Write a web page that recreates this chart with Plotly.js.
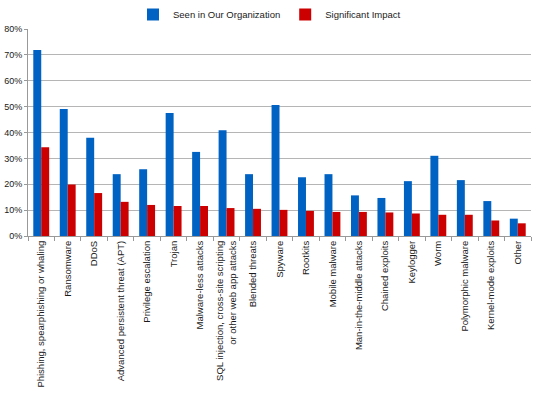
<!DOCTYPE html>
<html><head><meta charset="utf-8">
<script src="https://cdn.plot.ly/plotly-3.0.1.min.js"></script>
<style>body{margin:0;background:#fff}#c{width:539px;height:399px}</style>
</head><body><div id="c"></div>
<script>
const categories = [
  "Phishing, spearphishing or whaling","Ransomware","DDoS","Advanced persistent threat (APT)",
  "Privilege escalation","Trojan","Malware-less attacks",
  "SQL injection, cross-site scripting<br>or other web app attacks","Blended threats","Spyware",
  "Rootkits","Mobile malware","Man-in-the-middle attacks","Chained exploits","Keylogger","Worm",
  "Polymorphic malware","Kernel-mode exploits","Other"];
const seen = [71.9,49.1,38.0,23.9,25.8,47.5,32.5,40.9,23.9,50.6,22.7,23.9,15.7,14.7,21.2,31.0,21.6,13.5,6.7];
const impact = [34.3,19.9,16.6,13.2,12.0,11.6,11.6,10.8,10.5,10.1,9.7,9.3,9.3,9.1,8.7,8.2,8.2,6.0,4.9];
const yTicks = [0,10,20,30,40,50,60,70,80];
const yTickLabels = yTicks.map(v => v + "%");

const font = "Liberation Sans, Arial, sans-serif";
Plotly.newPlot("c", [
  {type:"bar", name:"Seen in Our Organization", x:categories, y:seen, marker:{color:"#0062C2"}},
  {type:"bar", name:"Significant Impact", x:categories, y:impact, marker:{color:"#CC0000"}}
], {
  width:539, height:399,
  margin:{l:28, r:8, t:22, b:163},
  paper_bgcolor:"#fff", plot_bgcolor:"#fff",
  font:{family:font, size:9.5, color:"#1a1a1a"},
  barmode:"group", bargap:0.4, bargroupgap:0,
  showlegend:true,
  legend:{orientation:"h", x:0.5, xanchor:"center", xref:"container", yref:"container", y:1.0, yanchor:"top",
          font:{family:font, size:9.5, color:"#1a1a1a"}, itemwidth:30, traceorder:"normal"},
  xaxis:{tickangle:-90, showgrid:false, showline:true, linecolor:"#999", linewidth:1,
         ticks:"outside", tickson:"boundaries", ticklen:4, tickcolor:"#999",
         tickfont:{family:font, size:9.5, color:"#1a1a1a"}, automargin:false},
  yaxis:{range:[0,80], tickvals:yTicks, ticktext:yTickLabels, showgrid:true, gridcolor:"#b5b5b5",
         gridwidth:1, showline:true, linecolor:"#999", ticks:"outside", ticklen:3, tickcolor:"#999",
         zeroline:false, tickfont:{family:font, size:9, color:"#1a1a1a"}, automargin:false}
}, {displayModeBar:false, staticPlot:true});
</script></body></html>
